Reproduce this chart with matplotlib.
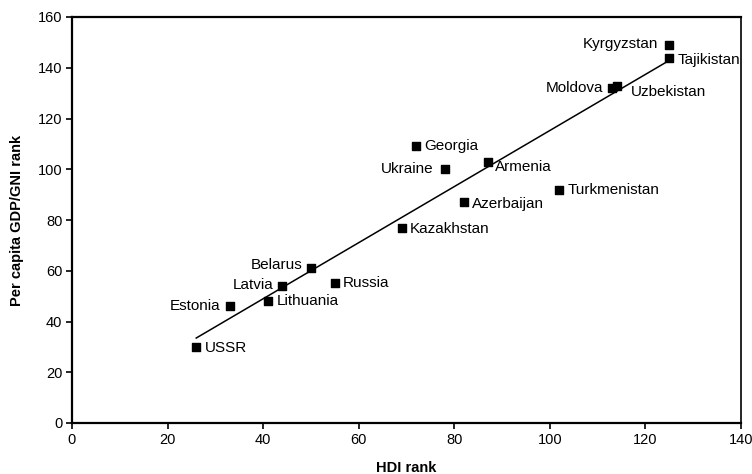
import numpy as np
import matplotlib
matplotlib.use("Agg")
from matplotlib import pyplot as plt

countries = ['USSR', 'Estonia', 'Lithuania', 'Latvia', 'Belarus', 'Russia',
             'Kazakhstan', 'Azerbaijan', 'Georgia', 'Ukraine', 'Armenia',
             'Turkmenistan', 'Moldova', 'Uzbekistan', 'Kyrgyzstan', 'Tajikistan']
hdi_rank = [26, 33, 41, 44, 50, 55, 69, 82, 72, 78, 87, 102, 113, 114, 125, 125]
gdp_rank = [30, 46, 48, 54, 61, 55, 77, 87, 109, 100, 103, 92, 132, 133, 149, 144]

# label placement: (dx, dy) offsets in points and alignment
offsets = {
    'USSR': (6, -1, 'left'), 'Estonia': (-7, 0, 'right'), 'Lithuania': (6, 0, 'left'),
    'Latvia': (-6, 1, 'right'), 'Belarus': (-6, 2, 'right'), 'Russia': (6, 0, 'left'),
    'Kazakhstan': (6, -1, 'left'), 'Azerbaijan': (6, -1, 'left'), 'Georgia': (6, 0, 'left'),
    'Ukraine': (-8, 0, 'right'), 'Armenia': (5, -4, 'left'), 'Turkmenistan': (6, 0, 'left'),
    'Moldova': (-6, 0, 'right'), 'Uzbekistan': (10, -5, 'left'), 'Kyrgyzstan': (-8, 1, 'right'),
    'Tajikistan': (6, -2, 'left'),
}

plt.rcParams['font.family'] = ['Liberation Sans', 'DejaVu Sans']
plt.rcParams['font.size'] = 11

fig = plt.figure(figsize=(7.52, 4.74), dpi=100)
ax = fig.add_axes([72/752, 1-423/474, (741-72)/752, (423-17)/474])

x = np.array(hdi_rank)
y = np.array(gdp_rank)
k, b = np.polyfit(x, y, 1)
xs = np.array([x.min(), x.max()])
ax.plot(xs, k*xs + b, color='black', linewidth=1.1)
ax.scatter(x, y, marker='s', s=28, color='black', zorder=3)

for name, xi, yi in zip(countries, hdi_rank, gdp_rank):
    dx, dy, ha = offsets[name]
    ax.annotate(name, (xi, yi), xytext=(dx, dy), textcoords='offset points',
                ha=ha, va='center', fontsize=11)

ax.set_xlim(0, 140)
ax.set_ylim(0, 160)
ax.set_xticks(np.arange(0, 141, 20))
ax.set_yticks(np.arange(0, 161, 20))
ax.tick_params(direction='out', length=4, width=1.2, pad=3, labelsize=10.5)
for s in ax.spines.values():
    s.set_linewidth(1.6)
ax.spines['right'].set_linewidth(1.2)

ax.set_xlabel('HDI rank', fontweight='bold', fontsize=10.5, labelpad=10)
ax.set_ylabel('Per capita GDP/GNI rank', fontweight='bold', fontsize=10.5, labelpad=10)

fig.savefig('out.png', dpi=100)
